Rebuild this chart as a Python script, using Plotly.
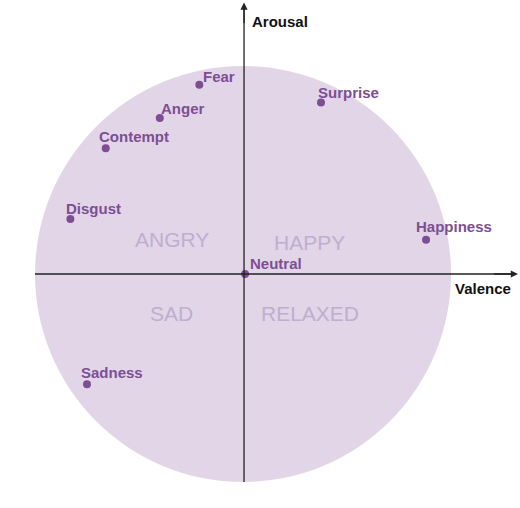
import plotly.graph_objects as go

emotions = ["Fear", "Anger", "Contempt", "Disgust", "Surprise", "Happiness", "Neutral", "Sadness"]
valence = [-0.21, -0.40, -0.66, -0.83, 0.375, 0.88, 0.01, -0.75]
arousal = [0.91, 0.75, 0.605, 0.265, 0.825, 0.165, 0.0, -0.53]

quadrants = ["ANGRY", "HAPPY", "SAD", "RELAXED"]
quad_x = [-0.34, 0.32, -0.345, 0.32]
quad_y = [0.165, 0.15, -0.19, -0.19]

# label placement tweaks (pixels) - styling only
label_dx = [2, -1, -9, -6, -5, -12, 3, -8]
label_dy = [8, 10, 12, 10, 10, 13, 11, 12]

PURPLE = "#7d4e94"
FONT = "Liberation Sans, Arial, sans-serif"

W, H = 520, 508
CX, CY, R = 243, 274, 208
AX0 = 0.005  # vertical axis position

fig = go.Figure()
fig.add_shape(type="circle", xref="x", yref="y", x0=-1, x1=1, y0=-1, y1=1,
              fillcolor="#e2d5e8", line=dict(width=0), layer="below")

# axes lines
fig.add_shape(type="line", x0=-1, x1=1.29, y0=0, y1=0, line=dict(color="#222222", width=1.3))
fig.add_shape(type="line", x0=AX0, x1=AX0, y0=-1, y1=1.28, line=dict(color="#222222", width=1.3))
fig.add_annotation(x=1.322, y=0, ax=1.2, ay=0, axref="x", ayref="y", xref="x", yref="y",
                   showarrow=True, arrowhead=2, arrowsize=1.1, arrowwidth=1.3, arrowcolor="#222222", text="")
fig.add_annotation(x=AX0, y=1.305, ax=AX0, ay=1.2, axref="x", ayref="y", xref="x", yref="y",
                   showarrow=True, arrowhead=2, arrowsize=1.1, arrowwidth=1.3, arrowcolor="#222222", text="")

fig.add_trace(go.Scatter(x=valence, y=arousal, mode="markers",
                         marker=dict(color=PURPLE, size=8), hoverinfo="text", text=emotions))

for name, vx, vy, dx, dy in zip(emotions, valence, arousal, label_dx, label_dy):
    fig.add_annotation(x=vx, y=vy, text=f"<b>{name}</b>", showarrow=False,
                       xanchor="left", yanchor="middle", xshift=dx, yshift=dy,
                       font=dict(family=FONT, size=15, color=PURPLE))

for q, qx, qy in zip(quadrants, quad_x, quad_y):
    fig.add_annotation(x=qx, y=qy, text=q, showarrow=False, xanchor="center", yanchor="middle",
                       font=dict(family=FONT, size=21, color="#bfaed0"))

fig.add_annotation(x=0.035, y=1.215, text="<b>Arousal</b>", showarrow=False, xanchor="left",
                   yanchor="middle", font=dict(family=FONT, size=15, color="#111111"))
fig.add_annotation(x=1.01, y=-0.068, text="<b>Valence</b>", showarrow=False, xanchor="left",
                   yanchor="middle", font=dict(family=FONT, size=15, color="#111111"))

fig.update_layout(width=W, height=H, margin=dict(l=0, r=0, t=0, b=0),
                  paper_bgcolor="white", plot_bgcolor="white", showlegend=False)
fig.update_xaxes(range=[-CX / R, (W - CX) / R], visible=False, fixedrange=True)
fig.update_yaxes(range=[-(H - CY) / R, CY / R], visible=False, fixedrange=True)

fig.write_html("out.html", config={"displayModeBar": False},
               post_script="document.body.style.margin='0';document.body.style.overflow='hidden';")
